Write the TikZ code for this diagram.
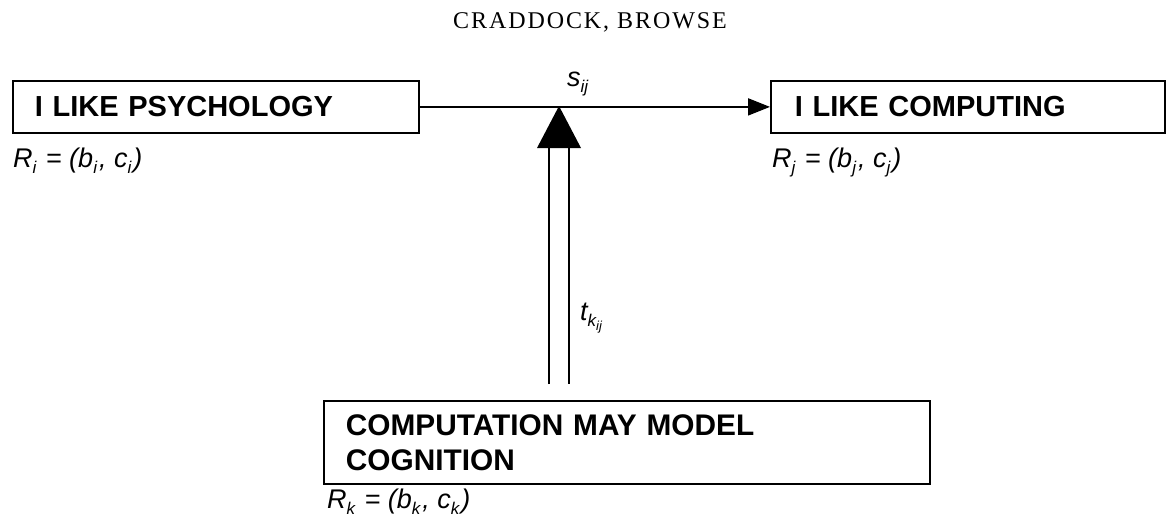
\documentclass[tikz,border=0pt]{standalone}
\usepackage{fontspec}
\setmainfont{Liberation Sans}
\newfontfamily\titlefont[LetterSpace=8]{Liberation Serif}
\usetikzlibrary{arrows.meta}
\newcommand{\sbs}[1]{\raisebox{-0.45ex}{\fontsize{17}{17}\selectfont #1}\kern2pt}
\newcommand{\ssbs}[1]{\raisebox{-0.4ex}{\fontsize{13}{13}\selectfont #1}}
\tikzset{
  box/.style={draw, line width=1.8pt, anchor=north west, inner xsep=22pt, inner ysep=0pt,
    align=left, font=\fontsize{29}{35}\selectfont\bfseries},
  lbl/.style={anchor=base west, inner sep=0pt, font=\fontsize{27}{30}\selectfont\itshape},
  conn/.style={line width=1.8pt},
}
\begin{document}
\begin{tikzpicture}[x=1pt,y=-1pt]
\useasboundingbox (0,0) rectangle (1166,530);
\node[anchor=base, inner sep=0pt, font=\titlefont\fontsize{24}{26}\selectfont] (title) at (590,28) {CRADDOCK, BROWSE};
\node[box, minimum width=406pt, minimum height=52pt, text width=362pt] (psy) at (12,80) {I LIKE PSYCHOLOGY};
\node[box, minimum width=394pt, minimum height=52pt, text width=346pt, inner xsep=24pt] (comp) at (770,80) {I LIKE COMPUTING};
\node[box, minimum width=606pt, minimum height=83pt, text width=562pt, font=\fontsize{29.8}{35}\selectfont\bfseries] (cog) at (323,400) {COMPUTATION MAY MODEL\\COGNITION};
\node[lbl] (ri) at (13,167) {R\sbs{i}\ = (b\sbs{i}, c\sbs{i})};
\node[lbl] (rj) at (772,167) {R\sbs{j}\ = (b\sbs{j}, c\sbs{j})};
\node[lbl] (rk) at (327,508) {R\sbs{k}\ = (b\sbs{k}, c\sbs{k})};
\draw[conn, -{Triangle[length=22pt, width=17pt]}] (psy.east) -- (comp.west);
\node[lbl] (sij) at (567,86) {s\sbs{ij}};
\coordinate (tip) at (559,106);
\coordinate (base) at (559,384);
\draw[line width=1.8pt, double distance=18pt] (base) -- (559,147);
\fill (tip) -- (581,148) -- (537,148) -- cycle;
\node[lbl] (tk) at (580,320) {t\raisebox{-0.45ex}{\fontsize{17}{17}\selectfont k\ssbs{ij}}};
\end{tikzpicture}
\end{document}
